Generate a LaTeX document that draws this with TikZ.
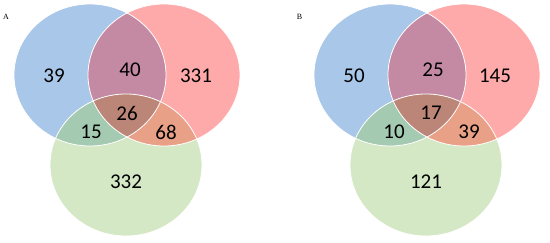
\documentclass[tikz,border=0pt]{standalone}
\usepackage{fontspec}
\newfontfamily\numfont{Carlito}
\setmainfont{Liberation Serif}
\definecolor{cB}{RGB}{169,199,232}
\definecolor{cR}{RGB}{255,170,170}
\definecolor{cG}{RGB}{213,232,198}
\definecolor{cBR}{RGB}{196,138,163}
\definecolor{cBG}{RGB}{165,202,178}
\definecolor{cRG}{RGB}{232,160,135}
\definecolor{cBRG}{RGB}{187,133,120}
\tikzset{
  num/.style={font=\numfont\fontsize{21}{21}\selectfont, inner sep=0pt, text=black},
  panellabel/.style={font=\fontsize{8}{8}\selectfont, inner sep=0pt},
  rim/.style={draw=white, line width=0.8pt}
}
\newcommand\blueset{(90,75) ellipse [x radius=76pt, y radius=71pt]}
\newcommand\redset{(164,75) ellipse [x radius=76pt, y radius=71pt]}
\newcommand\greenset{(126,165) ellipse [x radius=76pt, y radius=71pt]}
\newcommand\drawvenn[1]{%
  \begin{scope}[xshift=#1pt]
    \fill[cB] \blueset;
    \fill[cG] \greenset;
    \fill[cR] \redset;
    \begin{scope}\clip \blueset; \fill[cBG] \greenset; \end{scope}
    \begin{scope}\clip \blueset; \fill[cBR] \redset; \end{scope}
    \begin{scope}\clip \redset; \fill[cRG] \greenset; \end{scope}
    \begin{scope}\clip \blueset; \clip \redset; \fill[cBRG] \greenset; \end{scope}
    \path[rim] \blueset;
    \path[rim] \redset;
    \path[rim] \greenset;
  \end{scope}}
\begin{document}
\begin{tikzpicture}[x=1pt,y=-1pt]
  \useasboundingbox[fill=white] (0,0) rectangle (550,243);
  \drawvenn{0}
  \drawvenn{300}
  % panel A
  \node[num] (Ab)   at (54,76)   {39};
  \node[num] (Abr)  at (130,70)  {40};
  \node[num] (Ar)   at (196,76)  {331};
  \node[num] (Abrg) at (127,113) {26};
  \node[num] (Abg)  at (91,132)  {15};
  \node[num] (Arg)  at (166,132) {68};
  \node[num] (Ag)   at (126,182) {332};
  % panel B
  \node[num] (Bb)   at (354,76)  {50};
  \node[num] (Bbr)  at (433,70)  {25};
  \node[num] (Br)   at (495,76)  {145};
  \node[num] (Bbrg) at (431,113) {17};
  \node[num] (Bbg)  at (394,132) {10};
  \node[num] (Brg)  at (469,132) {39};
  \node[num] (Bg)   at (426,182) {121};
  \node[panellabel] (labA) at (6,16.5) {A};
  \node[panellabel] (labB) at (299.5,16.5) {B};
\end{tikzpicture}
\end{document}
